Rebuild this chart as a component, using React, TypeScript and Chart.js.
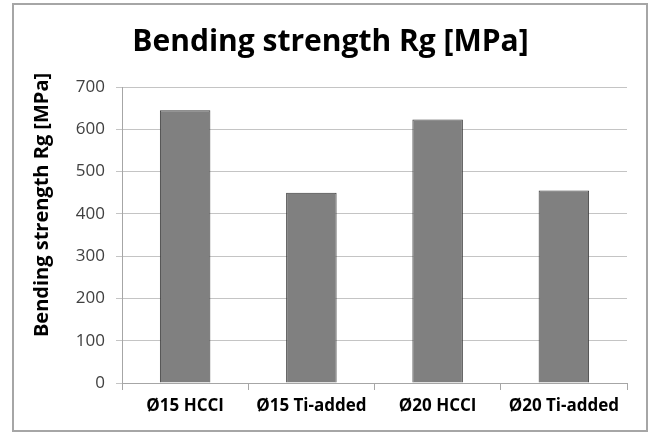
import React, { useEffect, useRef } from "react";
import { Chart, registerables } from "chart.js";

Chart.register(...registerables);

const categories = ["Ø15 HCCI", "Ø15 Ti-added", "Ø20 HCCI", "Ø20 Ti-added"];
const strengthValues = [645, 450, 623, 455];
const yTicks = [0, 100, 200, 300, 400, 500, 600, 700];
const chartTitle = "Bending strength Rg [MPa]";
const yAxisTitle = "Bending strength Rg [MPa]";

const framePlugin = {
  id: "frame",
  beforeDraw(chart: any) {
    const ctx = chart.ctx;
    ctx.save();
    ctx.fillStyle = "#ffffff";
    ctx.fillRect(0, 0, chart.width, chart.height);
    ctx.strokeStyle = "#a6a6a6";
    ctx.lineWidth = 2;
    ctx.strokeRect(13, 4, 634, 427);
    ctx.restore();
  },
  afterDraw(chart: any) {
    const ctx = chart.ctx;
    ctx.save();
    ctx.translate(42, 205);
    ctx.rotate(-Math.PI / 2);
    ctx.fillStyle = "#000000";
    ctx.font = "bold 20px 'Open Sans'";
    ctx.textAlign = "center";
    ctx.textBaseline = "middle";
    ctx.fillText(yAxisTitle, 0, 0);
    ctx.restore();
  },
};

export default function App() {
  const ref = useRef<HTMLCanvasElement | null>(null);
  useEffect(() => {
    document.body.style.margin = "0";
    if (!ref.current) return;
    const chart = new Chart(ref.current, {
      type: "bar",
      data: {
        labels: categories,
        datasets: [
          {
            data: strengthValues,
            backgroundColor: "#808080",
            borderColor: "#3a3a3a",
            borderWidth: 1,
            barPercentage: 0.4,
            categoryPercentage: 1,
          },
        ],
      },
      options: {
        animation: false,
        responsive: false,
        maintainAspectRatio: false,
        layout: { padding: { left: 34, right: 26, top: 0, bottom: 0 } },
        plugins: {
          legend: { display: false },
          tooltip: { enabled: false },
          title: {
            display: true,
            text: chartTitle,
            color: "#000000",
            font: { family: "'Open Sans'", size: 30, weight: "bold" },
            padding: { top: 24, bottom: 27 },
          },
        },
        scales: {
          x: {
            offset: true,
            grid: {
              display: true,
              drawOnChartArea: false,
              drawTicks: true,
              tickLength: 7,
              color: "#a6a6a6",
            },
            border: { color: "#a6a6a6" },
            ticks: {
              color: "#000000",
              font: { family: "'Open Sans'", size: 17, weight: "bold" },
              padding: 6,
              maxRotation: 0,
            },
            afterFit(scale: any) {
              scale.height = 51;
            },
          },
          y: {
            min: 0,
            max: 700,
            afterBuildTicks(scale: any) {
              scale.ticks = yTicks.map((v) => ({ value: v }));
            },
            grid: {
              color: "#c4c4c4",
              tickLength: 6,
            },
            border: { color: "#a6a6a6" },
            ticks: {
              color: "#404040",
              font: { family: "'Open Sans'", size: 17 },
              padding: 11,
            },
            afterFit(scale: any) {
              scale.width = 88;
            },
          },
        },
      },
      plugins: [framePlugin],
    });
    return () => chart.destroy();
  }, []);
  return (
    <div style={{ width: 653, height: 434 }}>
      <canvas ref={ref} width={653} height={434} style={{ display: "block" }} />
    </div>
  );
}
